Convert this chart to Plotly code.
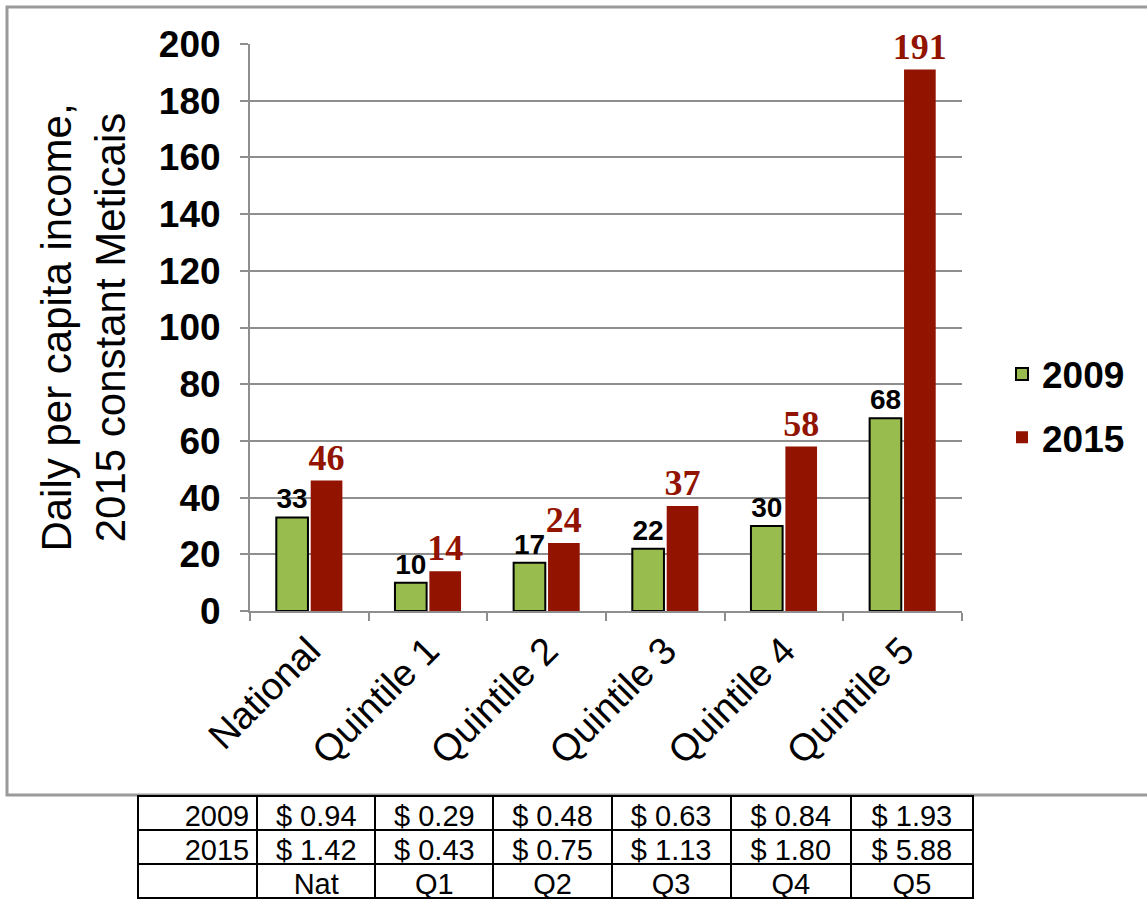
import plotly.graph_objects as go

# ---- data ----
categories = ["National", "Quintile 1", "Quintile 2", "Quintile 3", "Quintile 4", "Quintile 5"]
values_2009 = [33, 10, 17, 22, 30, 68]
values_2015 = [46, 14, 24, 37, 58, 191]
y_ticks = [0, 20, 40, 60, 80, 100, 120, 140, 160, 180, 200]

table_row_labels = ["2009", "2015", ""]
table_col_labels = ["Nat", "Q1", "Q2", "Q3", "Q4", "Q5"]
usd_2009 = ["$ 0.94", "$ 0.29", "$ 0.48", "$ 0.63", "$ 0.84", "$ 1.93"]
usd_2015 = ["$ 1.42", "$ 0.43", "$ 0.75", "$ 1.13", "$ 1.80", "$ 5.88"]

W, H = 1147, 901
GREEN = "#98BC4E"
RED = "#911300"
GRAY = "#8E8E8E"
SANS = "Arial, Liberation Sans"

fig = go.Figure()

fig.add_trace(go.Bar(
    x=categories, y=values_2009, name="2009",
    marker=dict(color=GREEN, line=dict(color="black", width=2)),
    text=values_2009, texttemplate="%{y}", textposition="outside",
    textfont=dict(family=SANS, size=28, color="black", weight="bold"),
    cliponaxis=False, constraintext="none", legendgroup="a",
))
fig.add_trace(go.Bar(
    x=categories, y=values_2015, name="2015",
    marker=dict(color=RED, line=dict(color=RED, width=0)),
    text=values_2015, texttemplate="%{y}", textposition="outside",
    textfont=dict(family="Liberation Serif, Times New Roman", size=36, color=RED, weight="bold"),
    cliponaxis=False, constraintext="none", legendgroup="b",
))

# table below the chart
header_vals = ["2009"] + usd_2009
col_cells = [[table_row_labels[1], table_row_labels[2]]] + [[a, b] for a, b in zip(usd_2015, table_col_labels)]
fig.add_trace(go.Table(
    domain=dict(x=[138 / W, 973 / W], y=[0, 105 / H]),
    columnwidth=[119, 118, 118, 118, 119, 120, 122],
    header=dict(values=header_vals, height=34,
                align=["right"] + ["center"] * 6,
                line=dict(color="black", width=2), fill=dict(color="white"),
                font=dict(family=SANS, size=29, color="black")),
    cells=dict(values=col_cells, height=34,
               align=["right"] + ["center"] * 6,
               line=dict(color="black", width=2), fill=dict(color="white"),
               font=dict(family=SANS, size=29, color="black")),
))

fig.update_layout(
    width=W, height=H, autosize=False,
    margin=dict(l=0, r=0, t=0, b=0, autoexpand=False),
    paper_bgcolor="white", plot_bgcolor="white",
    barmode="group", bargap=0.42, bargroupgap=0.08,
    font=dict(family=SANS, color="black"),
    showlegend=True,
    legend=dict(x=1002 / W, y=1 - 406 / H, xanchor="left", yanchor="middle",
                font=dict(family=SANS, size=37, color="black", weight="bold"),
                traceorder="grouped", tracegroupgap=12, bgcolor="rgba(0,0,0,0)",
                itemwidth=30),
    xaxis=dict(domain=[250 / W, 962 / W], type="category", tickson="boundaries",
               automargin=False,
               ticks="outside", ticklen=8, tickwidth=2, tickcolor=GRAY,
               showline=True, linecolor=GRAY, linewidth=2, showgrid=False,
               tickangle=-45, tickfont=dict(family=SANS, size=38, color="black")),
    yaxis=dict(domain=[(H - 611) / H, (H - 44) / H], range=[0, 200], tickvals=y_ticks,
               automargin=False,
               ticks="outside", ticklen=8, tickwidth=2, tickcolor=GRAY,
               showline=True, linecolor=GRAY, linewidth=2,
               showgrid=True, gridcolor=GRAY, gridwidth=2, zeroline=False,
               ticklabelstandoff=12,
               tickfont=dict(family=SANS, size=37, color="black", weight="bold"),
               title=dict(text="Daily per capita income,<br>2015 constant Meticais",
                          font=dict(family=SANS, size=42, color="black"),
                          standoff=20)),
    shapes=[dict(type="rect", xref="paper", yref="paper",
                 x0=7 / W, x1=1.01, y0=1 - 795 / H, y1=1 - 7 / H,
                 line=dict(color="#9A9A9A", width=3), fillcolor="rgba(0,0,0,0)", layer="below")],
)

fig.write_html(
    "out.html",
    config={"displayModeBar": False},
    post_script="document.body.style.margin='0';document.body.style.overflow='hidden';",
)
